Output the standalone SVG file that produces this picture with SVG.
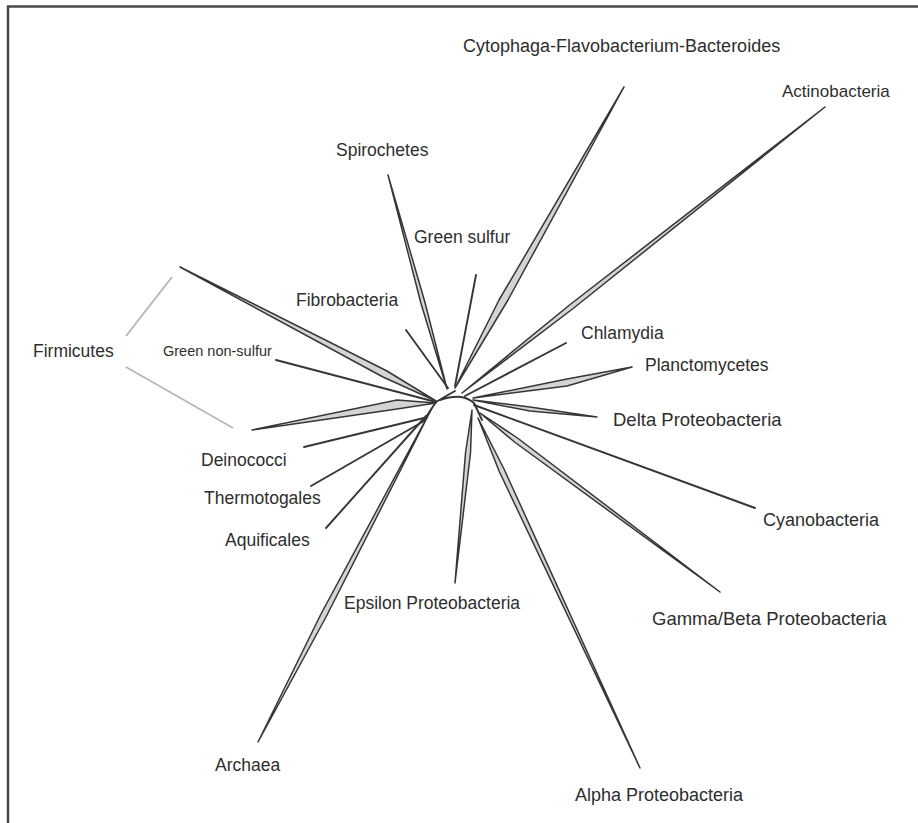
<svg xmlns="http://www.w3.org/2000/svg" width="918" height="823" viewBox="0 0 918 823">
<style>
.lbl{font-family:"Liberation Sans",Arial,sans-serif;font-size:17.5px;fill:#2e2e2e}
.sm{font-size:14.5px}
.br{stroke:#363636;stroke-width:1.9;fill:none;stroke-linecap:round}
.wg{stroke:#363636;stroke-width:1.5;fill:#d4d4d4;stroke-linejoin:round}
.brk{stroke:#b8b8b8;stroke-width:2;fill:none}
</style>
<rect x="0" y="0" width="918" height="823" fill="#ffffff"/>
<path d="M8 823 V6.5 H918" fill="none" stroke="#4a4a4a" stroke-width="2.5"/>
<g id="connectors">
  <path class="br" d="M436 402 Q446 396 455 391 M440 400 Q452 396 461 397 Q468 398 474 403 M436 402 L424 420 M474 403 L482 420"/>
  <polygon class="wg" points="180,267 387,371 436,401 383,377"/>
  <line class="br" x1="276" y1="360" x2="436" y2="402"/>
  <polygon class="wg" points="252,430 397,400 436,403 397,409"/>
  <line class="br" x1="304" y1="447" x2="424" y2="418"/>
  <line class="br" x1="311" y1="486" x2="424" y2="421"/>
  <line class="br" x1="326" y1="528" x2="426" y2="416"/>
  <polygon class="wg" points="258,742 326,617 432,408 321,614"/>
  <polygon class="wg" points="455,583 470.5,453 472,410 465.5,453"/>
  <polygon class="wg" points="640,768 504.5,470 478,418 499.5,472"/>
  <polygon class="wg" points="720,592 517.5,438 480,413 514.5,442"/>
  <line class="br" x1="755" y1="508" x2="474" y2="405"/>
  <polygon class="wg" points="597,417 530,407 473,400 530,411"/>
  <polygon class="wg" points="632,367 567,379 473,398 567,386"/>
  <line class="br" x1="566" y1="343" x2="465" y2="396"/>
  <polygon class="wg" points="825,107 572.5,309 462,393 569.5,305"/>
  <polygon class="wg" points="624,87 508,300 455,388 499,300"/>
  <line class="br" x1="476" y1="275" x2="455" y2="386"/>
  <polygon class="wg" points="388,175 425,302.5 447,389 421,303.5"/>
  <line class="br" x1="406" y1="330" x2="448" y2="388"/>
  <path class="brk" d="M172 277 L126 336 M126 367 L233 428"/>
</g>
<g id="node-cfb"><text class="lbl" x="463" y="52" style="font-size:18px">Cytophaga-Flavobacterium-Bacteroides</text></g>
<g id="node-actinobacteria"><text class="lbl" x="782" y="97" style="font-size:17px">Actinobacteria</text></g>
<g id="node-spirochetes"><text class="lbl" x="336" y="156">Spirochetes</text></g>
<g id="node-green-sulfur"><text class="lbl" x="414" y="243">Green sulfur</text></g>
<g id="node-fibrobacteria"><text class="lbl" x="296" y="306">Fibrobacteria</text></g>
<g id="node-chlamydia"><text class="lbl" x="581" y="339">Chlamydia</text></g>
<g id="node-planctomycetes"><text class="lbl" x="645" y="371">Planctomycetes</text></g>
<g id="node-firmicutes"><text class="lbl" x="33" y="357">Firmicutes</text></g>
<g id="node-green-non-sulfur"><text class="lbl sm" x="163" y="356">Green non-sulfur</text></g>
<g id="node-delta"><text class="lbl" x="613" y="426" style="font-size:18.5px">Delta Proteobacteria</text></g>
<g id="node-deinococci"><text class="lbl" x="201" y="466">Deinococci</text></g>
<g id="node-thermotogales"><text class="lbl" x="204" y="504">Thermotogales</text></g>
<g id="node-aquificales"><text class="lbl" x="225" y="546">Aquificales</text></g>
<g id="node-cyanobacteria"><text class="lbl" x="763" y="526" style="font-size:18px">Cyanobacteria</text></g>
<g id="node-epsilon"><text class="lbl" x="344" y="609">Epsilon Proteobacteria</text></g>
<g id="node-gamma-beta"><text class="lbl" x="652" y="625" style="font-size:18.5px">Gamma/Beta Proteobacteria</text></g>
<g id="node-archaea"><text class="lbl" x="215" y="771">Archaea</text></g>
<g id="node-alpha"><text class="lbl" x="575" y="801" style="font-size:18px">Alpha Proteobacteria</text></g>
</svg>
